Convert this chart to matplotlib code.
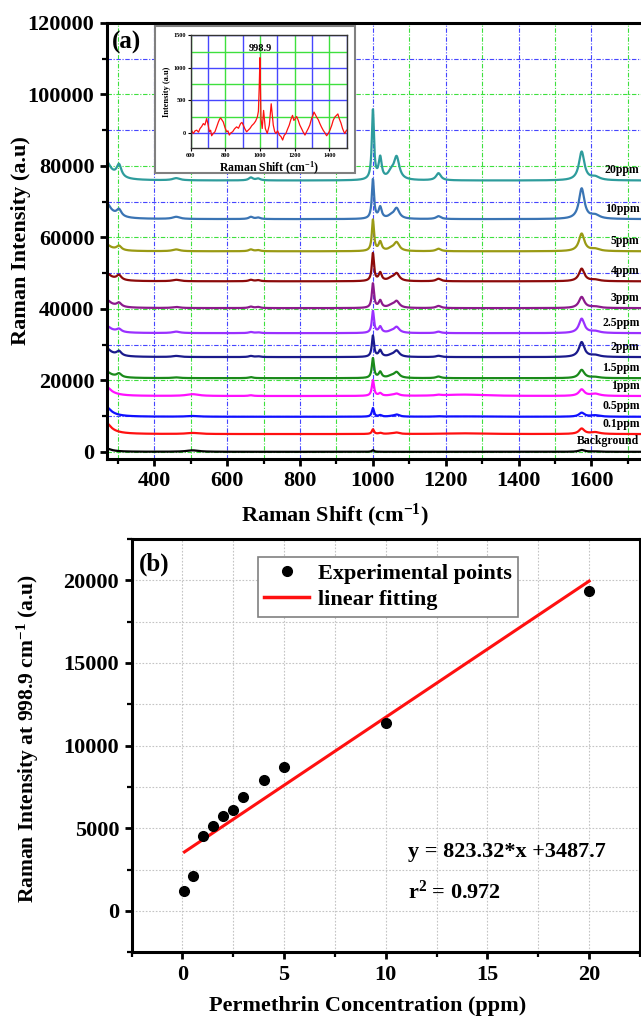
import numpy as np
import matplotlib
matplotlib.use("Agg")
import matplotlib.pyplot as plt
from matplotlib.ticker import MultipleLocator
from matplotlib.patches import Rectangle
from matplotlib.lines import Line2D

plt.rcParams['font.family'] = ['Liberation Serif', 'DejaVu Serif']
plt.rcParams['font.weight'] = 'bold'
plt.rcParams['mathtext.fontset'] = 'custom'
plt.rcParams['mathtext.rm'] = 'Liberation Serif:bold'
plt.rcParams['mathtext.it'] = 'Liberation Serif:italic:bold'
plt.rcParams['mathtext.bf'] = 'Liberation Serif:bold'

# -------- panel (a): Raman spectra -------------------------------
SPEC_LABELS = ["Background", "0.1ppm", "0.5ppm", "1ppm", "1.5ppm", "2ppm",
               "2.5ppm", "3ppm", "4ppm", "5ppm", "10ppm", "20ppm"]
SPEC_COLORS = ["#000000", "#ff1010", "#1010ff", "#ff10ff", "#1a8a1a", "#1a1a8c",
               "#9a30ff", "#8c1a8c", "#8c0a0a", "#9a9a14", "#3a74b4", "#2e9c9c"]
BASELINE = [0, 4960, 9800, 15600, 20600, 26500, 33200, 40200, 47700, 56100, 65100, 75900]

# band centres (cm-1) and half widths
PEAK_CENTERS = [262, 303, 460, 505, 665, 685, 1000, 1020, 1050, 1065, 1180, 1250, 1573, 1610]
PEAK_HWHM = [20, 8, 12, 20, 7, 7, 3.5, 5, 10, 9, 8, 70, 9, 15]

# band heights above baseline, one value per spectrum (Background ... 20ppm)
AMP_262 = [1100, 3700, 3250, 3080, 2150, 2900, 2380, 2730, 2670, 2200, 5350, 6160]
AMP_303 = [0, 0, 0, 0, 1000, 1250, 850, 1100, 1350, 1200, 1900, 3500]
AMP_460 = [0, 0, 0, 0, 200, 300, 400, 300, 400, 500, 600, 600]
AMP_505 = [400, 300, 200, 500, 0, 0, 0, 0, 0, 0, 0, 0]
AMP_665 = [0, 0, 0, 200, 300, 300, 300, 400, 400, 500, 600, 800]
AMP_685 = [0, 0, 0, 0, 0, 200, 200, 300, 300, 300, 400, 500]
AMP_1000 = [450, 1300, 2400, 4400, 5500, 5900, 6100, 6800, 7750, 8700, 11000, 19400]
AMP_1020 = [0, 300, 400, 700, 1650, 1800, 1700, 2000, 2250, 2500, 3150, 6000]
AMP_1050 = [0, 100, 100, 150, 500, 400, 400, 600, 700, 600, 700, 1800]
AMP_1065 = [0, 380, 600, 600, 1600, 1750, 1650, 1850, 2100, 2400, 2900, 6200]
AMP_1180 = [0, 0, 100, 200, 450, 350, 400, 600, 700, 700, 800, 2000]
AMP_1250 = [0, 200, 100, 400, 0, 0, 0, 0, 0, 0, 0, 0]
AMP_1573 = [500, 1500, 1100, 1800, 2300, 4150, 4000, 3100, 3500, 4900, 8500, 8000]
AMP_1610 = [100, 500, 400, 600, 300, 500, 500, 400, 400, 600, 1000, 900]
AMPS = [AMP_262, AMP_303, AMP_460, AMP_505, AMP_665, AMP_685, AMP_1000, AMP_1020,
        AMP_1050, AMP_1065, AMP_1180, AMP_1250, AMP_1573, AMP_1610]

# inset: difference spectrum (Raman shift, intensity)
INSET_X = [600, 608, 615, 625, 635, 645, 654, 663, 673, 682, 692, 700, 708, 715, 721, 730,
           740, 750, 760, 767, 773, 780, 788, 798, 808, 815, 823, 832, 842, 853,
           865, 876, 888, 896, 904, 913, 923, 932, 942, 953, 965, 975, 985, 991, 996, 1000,
           1006, 1013, 1021, 1031, 1042,
           1054, 1065, 1077, 1085, 1092, 1102, 1112, 1122, 1131, 1140, 1150, 1160, 1169, 1178,
           1188, 1196, 1204, 1212, 1221, 1230, 1240, 1250, 1260,
           1270, 1279, 1288, 1298, 1305, 1312, 1320, 1327, 1337, 1346, 1355, 1365, 1375, 1385,
           1395, 1404, 1414, 1423, 1432, 1442, 1450, 1458, 1468, 1477, 1484, 1490, 1500]
INSET_Y = [66, 20, -10, 30, 40, 10, 66, 95, 142, 120, 218, 130, 15, 40, -45, -10,
           15, 90, 167, 210, 228, 200, 167, 80, 15, 30, -35, 0, 15, 60,
           91, 70, 142, 160, 117, 60, 15, 40, 66, 110, 142, 180, 243, 330, 725, 1155,
           218, 66, 344, 66, -10,
           117, 446, 117, 20, -10, 30, -35, -60, -111, -40, -10, 60, 117, 200,
           268, 190, 218, 250, 192, 120, 66, 10, -35,
           20, 66, 120, 218, 260, 319, 280, 243, 200, 142, 90, 40, 0, -45,
           -10, 40, 110, 192, 240, 268, 290, 218, 150, 66, 20, -10, 40]

# -------- panel (b): calibration ----------
CONC = [0.1, 0.5, 1, 1.5, 2, 2.5, 3, 4, 5, 10, 20]
INTENSITY = [1215, 2100, 4560, 5160, 5730, 6120, 6890, 7900, 8710, 11340, 19360]
FIT_SLOPE = 823.32
FIT_INTERCEPT = 3487.7
FIT_R2 = 0.972

BLUE_GRID = "#4646ff"
GREEN_GRID = "#3ee03e"
DASHDOT = (0, (4, 1.5, 1, 1.5))


def spectrum(x, i):
    y = np.full_like(x, BASELINE[i], dtype=float)
    for c, w, amp in zip(PEAK_CENTERS, PEAK_HWHM, AMPS):
        y += amp[i] * w ** 2 / ((x - c) ** 2 + w ** 2)
    return y


fig = plt.figure(figsize=(6.41, 10.19), dpi=100)

# ---------------- panel (a) ----------------
# right spine sits just beyond the figure edge, as in the original
ax1 = fig.add_axes([0.1669, 0.5496, 0.8468, 0.4279])
xs = np.linspace(270, 1760, 4000)
for i, (lab, col) in enumerate(zip(SPEC_LABELS, SPEC_COLORS)):
    ax1.plot(xs, spectrum(xs, i), color=col, lw=1.6)
    ax1.text(1732, BASELINE[i] + 2900, lab, ha='right', va='center', fontsize=8.5,
             fontweight='bold', clip_on=False)

ax1.set_xlim(270, 1760)
ax1.set_ylim(-2000, 120000)
ax1.xaxis.set_major_locator(MultipleLocator(200))
ax1.xaxis.set_minor_locator(MultipleLocator(100))
ax1.yaxis.set_major_locator(MultipleLocator(20000))
ax1.yaxis.set_minor_locator(MultipleLocator(10000))
ax1.set_axisbelow(True)
ax1.xaxis.grid(True, which='major', color=BLUE_GRID, ls=DASHDOT, lw=0.8)
ax1.xaxis.grid(True, which='minor', color=GREEN_GRID, ls=DASHDOT, lw=0.8)
ax1.yaxis.grid(True, which='major', color=GREEN_GRID, ls=DASHDOT, lw=0.8)
ax1.yaxis.grid(True, which='minor', color=BLUE_GRID, ls=DASHDOT, lw=0.8)
ax1.tick_params(which='major', direction='out', length=5, width=2, labelsize=16, pad=4)
ax1.tick_params(which='minor', direction='out', length=3.5, width=1.6)
for s in ax1.spines.values():
    s.set_linewidth(2.2)
ax1.set_ylabel("Raman Intensity (a.u)", fontsize=16, fontweight='bold')
ax1.yaxis.set_label_coords(-0.140, 0.5)
ax1.set_xlabel("Raman Shift (cm$^{-1}$)", fontsize=16, fontweight='bold')
ax1.xaxis.set_label_coords(0.420, -0.098)
ax1.text(284, 114600, "(a)", fontsize=18, fontweight='bold', va='center')

# inset frame and inset axes
fig.add_artist(Rectangle((0.2424, 0.8302), 0.3112, 0.1443, transform=fig.transFigure,
                         facecolor='white', edgecolor='#808080', lw=1.5, zorder=5))
axi = fig.add_axes([0.2975, 0.855, 0.2431, 0.1104], zorder=6)
axi.plot(INSET_X, INSET_Y, color='#ff1010', lw=0.9)
axi.set_xlim(600, 1500)
axi.set_ylim(-230, 1500)
axi.xaxis.set_major_locator(MultipleLocator(200))
axi.xaxis.set_minor_locator(MultipleLocator(100))
axi.yaxis.set_major_locator(MultipleLocator(500))
axi.yaxis.set_minor_locator(MultipleLocator(250))
axi.set_axisbelow(True)
axi.xaxis.grid(True, which='major', color=GREEN_GRID, lw=1.0)
axi.xaxis.grid(True, which='minor', color=BLUE_GRID, lw=1.0)
axi.yaxis.grid(True, which='major', color=BLUE_GRID, lw=1.0)
axi.yaxis.grid(True, which='minor', color=GREEN_GRID, lw=1.0)
axi.tick_params(which='major', direction='out', length=2, width=0.8, labelsize=4.5, pad=1.5)
axi.tick_params(which='minor', length=0)
for s in axi.spines.values():
    s.set_linewidth(1.0)
    s.set_color('#333333')
axi.set_xlabel("Raman Shift (cm$^{-1}$)", fontsize=8.5, fontweight='bold', labelpad=1.5)
axi.set_ylabel("Intensity (a.u)", fontsize=6, fontweight='bold', labelpad=2)
axi.text(1005, 1290, "998.9", ha='center', va='center', fontsize=7.5, fontweight='bold')

# ---------------- panel (b) ----------------
ax2 = fig.add_axes([0.2053, 0.06546, 0.7931, 0.4056])
fit_x = np.array([min(CONC), max(CONC)])
ax2.plot(fit_x, FIT_SLOPE * fit_x + FIT_INTERCEPT, color='#ff1010', lw=2.2, zorder=3)
ax2.plot(CONC, INTENSITY, 'o', color='black', ms=7, zorder=4)
ax2.set_xlim(-2.5, 22.5)
ax2.set_ylim(-2500, 22500)
ax2.xaxis.set_major_locator(MultipleLocator(5))
ax2.xaxis.set_minor_locator(MultipleLocator(2.5))
ax2.yaxis.set_major_locator(MultipleLocator(5000))
ax2.yaxis.set_minor_locator(MultipleLocator(2500))
ax2.set_axisbelow(True)
ax2.grid(True, which='both', color='#c4c4c4', ls=(0, (1.5, 1.5)), lw=0.8)
ax2.tick_params(which='major', direction='out', length=5, width=2, labelsize=16, pad=4)
ax2.tick_params(which='minor', direction='out', length=3.5, width=1.6)
for s in ax2.spines.values():
    s.set_linewidth(2.2)
ax2.set_ylabel("Raman Intensity at 998.9 cm$^{-1}$ (a.u)", fontsize=15.5, fontweight='bold')
ax2.yaxis.set_label_coords(-0.178, 0.518)
ax2.set_xlabel("Permethrin Concentration (ppm)", fontsize=16, fontweight='bold')
ax2.xaxis.set_label_coords(0.465, -0.105)
ax2.text(-2.15, 20960, "(b)", fontsize=18, fontweight='bold', va='center')
ax2.text(11.1, 3540, "y = %.2f*x +%.1f" % (FIT_SLOPE, FIT_INTERCEPT), fontsize=16,
         fontweight='bold', va='center')
ax2.text(11.1, 1110, "r$^{2}$ = %.3f" % FIT_R2, fontsize=16, fontweight='bold', va='center')

handles = [Line2D([], [], ls='none', marker='o', color='black', ms=7),
           Line2D([], [], color='#ff1010', lw=2.5)]
leg = ax2.legend(handles, ["Experimental points", "linear fitting"], loc='upper left',
                 bbox_to_anchor=(0.248, 0.957), fancybox=False, framealpha=1,
                 edgecolor='#808080', prop={'size': 16, 'weight': 'bold'},
                 handlelength=2.0, handletextpad=0.4, borderpad=0.3, labelspacing=0.25,
                 borderaxespad=0)
leg.get_frame().set_linewidth(1.2)

fig.savefig("out.png", dpi=100)
